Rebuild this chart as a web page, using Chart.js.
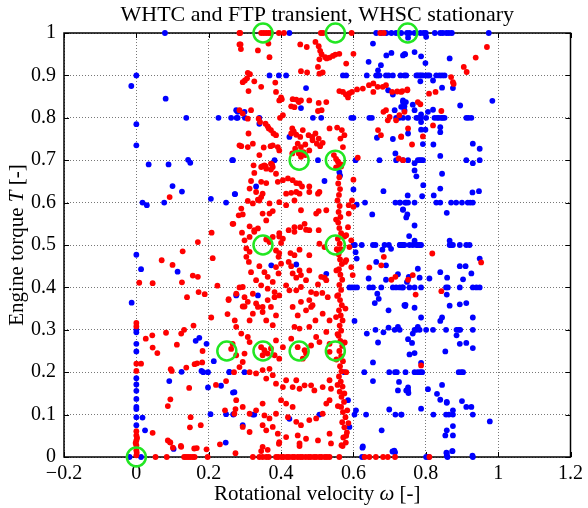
<!DOCTYPE html>
<html>
<head>
<meta charset="utf-8">
<script src="https://cdn.jsdelivr.net/npm/chart.js@4"></script>
<style>
  html, body { margin: 0; padding: 0; background: #fff; }
  #wrap { width: 588px; height: 508px; }
</style>
</head>
<body>
<div id="wrap"><canvas id="chart" width="588" height="508"></canvas></div>
<script>
// Axis ticks
const xTicks = [-0.2, 0, 0.2, 0.4, 0.6, 0.8, 1, 1.2];
const yTicks = [0, 0.1, 0.2, 0.3, 0.4, 0.5, 0.6, 0.7, 0.8, 0.9, 1];

// WHSC stationary modes (green circles)
const whscModes = [
    [0, 0], [0.25, 0.25], [0.35, 0.25], [0.45, 0.25], [0.55, 0.25],
    [0.35, 0.5], [0.55, 0.5], [0.45, 0.7], [0.55, 0.7],
    [0.35, 1], [0.55, 1], [0.75, 1]
];

// WHTC transient operating points (red)
const whtcPoints = [
    // left region
    [0.285,1.0],[0.285,0.973],[0.285,0.735],
    [0.092,0.613],[0.283,0.57],[0.266,0.55],[0.208,0.529],[0.17,0.507],[0.128,0.485],[0.211,0.469],
    [0.07,0.464],[0.1,0.453],[0.008,0.411],[0.045,0.41],[0.126,0.412],[0.156,0.428],[0.17,0.425],
    [0.224,0.404],[0.14,0.377],[0.172,0.389],[0.189,0.384],[0.255,0.372],[0.285,0.4],
    [0,0.316],[0,0.308],[0,0.22],[0,0.203],[0,0.061],[0,0.051],[0,0.039],[0,0.028],[0,0.016],
    [0,0.004],[0.002,0.045],[-0.002,0.033],[0.001,0.01],
    [0.013,0.22],[0.045,0.057],[0.026,0.279],[0.044,0.287],[0.045,0.258],[0.058,0.245],[0.082,0.293],
    [0.112,0.265],[0.124,0.291],[0.132,0.3],[0.158,0.31],[0.183,0.25],[0.207,0.329],[0.252,0.337],
    [0.272,0.322],[0.255,0.37],[0.262,0.255],[0.095,0.207],[0.098,0.203],[0.138,0.211],[0.161,0.219],
    [0.168,0.221],[0.182,0.223],[0.22,0.17],[0.248,0.179],[0.27,0.2],[0.146,0.163],[0.094,0.136],
    [0.087,0.12],[0.15,0.094],[0.148,0.07],[0.178,0.075],[0.245,0.11],[0.274,0.113],[0.087,0.039],
    [0.094,0.034],[0.123,0.026],[0.16,0.02],[0.167,0.021],[0.231,0.03],[0.194,0.018],
    [0.053,0],[0.084,0],[0.132,0],[0.137,0],[0.143,0],[0.149,0],[0.156,0],[0.161,0],[0.197,0],
    [0.274,0.009],[0.101,0.022],[0.124,0.024],
    // top band
    [0.287,1],[0.345,1],[0.352,1],[0.359,1],[0.366,1],[0.372,1],[0.394,1],[0.408,1],[0.51,1],
    [0.516,1],[0.595,1],[0.674,1],[0.684,1],
    [0.288,0.973],[0.368,0.943],[0.365,0.975],[0.289,0.962],[0.336,0.959],[0.453,0.973],[0.471,0.967],
    [0.495,0.979],[0.504,0.969],[0.508,0.958],[0.512,0.95],[0.506,0.938],[0.522,0.943],[0.526,0.94],
    [0.534,0.942],[0.543,0.946],[0.55,0.949],[0.561,0.951],[0.502,0.92],[0.58,0.928],[0.6,0.951],
    [0.472,0.907],[0.455,0.91],[0.506,0.904],[0.515,0.907],
    [0.308,0.906],[0.314,0.903],[0.3,0.888],[0.306,0.893],[0.294,0.884],[0.326,0.886],[0.31,0.863],
    [0.345,0.873],[0.384,0.883],[0.386,0.861],[0.4,0.848],[0.402,0.844],[0.395,0.841],[0.432,0.844],
    [0.442,0.843],[0.449,0.837],[0.455,0.841],[0.428,0.827],[0.437,0.825],[0.478,0.841],[0.504,0.835],
    [0.525,0.837],[0.502,0.816],[0.512,0.818],
    [0.561,0.863],[0.571,0.861],[0.579,0.855],[0.585,0.848],[0.589,0.858],[0.596,0.861],[0.61,0.867],
    [0.626,0.869],[0.643,0.877],[0.655,0.881],[0.655,0.861],[0.667,0.873],[0.681,0.873],[0.69,0.877],
    [0.707,0.861],[0.721,0.862],[0.732,0.861],[0.749,0.865],
    [0.285,0.818],[0.294,0.81],[0.317,0.818],[0.308,0.798],[0.338,0.798],[0.342,0.79],[0.357,0.786],
    [0.363,0.78],[0.366,0.775],[0.372,0.771],[0.379,0.763],[0.386,0.759],[0.31,0.763],[0.29,0.733],
    [0.308,0.731],[0.322,0.739],[0.352,0.73],[0.371,0.733],[0.377,0.735],[0.34,0.712],[0.349,0.686],
    [0.354,0.688],[0.372,0.692],[0.377,0.684],[0.359,0.68],[0.397,0.8],[0.405,0.806],[0.431,0.775],
    [0.435,0.768],[0.428,0.763],[0.442,0.76],[0.453,0.755],[0.46,0.771],[0.476,0.759],[0.486,0.755],
    [0.446,0.739],[0.455,0.731],[0.462,0.719],[0.467,0.737],[0.478,0.723],[0.487,0.747],[0.495,0.763],
    [0.504,0.751],[0.499,0.739],[0.508,0.733],[0.515,0.741],[0.534,0.775],[0.555,0.777],[0.568,0.771],
    [0.575,0.759],[0.564,0.751],[0.571,0.731],[0.391,0.731],[0.395,0.723],[0.431,0.716],[0.439,0.727],
    [0.546,0.712],[0.552,0.703],[0.557,0.697],[0.561,0.69],[0.566,0.685],[0.552,0.683],[0.56,0.685],
    [0.565,0.69],[0.612,0.706],[0.449,0.716],[0.455,0.708],[0.467,0.712],
    [0.668,0.771],[0.676,0.759],[0.695,0.794],[0.7,0.802],[0.718,0.794],[0.727,0.806],[0.683,0.814],
    [0.69,0.818],[0.732,0.756],[0.751,0.775],[0.725,0.704],[0.737,0.7],
    // right region
    [0.87,0.896],[0.875,0.884],[0.877,0.88],[0.905,0.92],[0.913,0.908],[0.938,0.942],[0.969,0.967],
    [0.735,0.863],[0.749,0.867],[0.809,0.857],[0.827,0.861],[0.741,0.814],[0.778,0.837],[0.785,0.832],
    [0.843,0.816],[0.82,0.782],[0.732,0.755],[0.792,0.756],[0.762,0.737],
    [0.818,0.48],[0.953,0.459],[0.764,0.429],[0.751,0.418],[0.772,0.383],[0.843,0.391],[0.787,0.216],[0.81,0],
    [0.684,0.472],[0.644,0.447],[0.677,0.452],[0.705,0.418],[0.716,0.425],
    // middle region
    [0.324,0.688],[0.345,0.684],[0.357,0.686],[0.375,0.69],[0.372,0.678],
    [0.326,0.67],[0.386,0.668],[0.405,0.653],[0.419,0.657],
    [0.432,0.653],[0.442,0.646],[0.451,0.645],[0.458,0.638],[0.478,0.638],
    [0.317,0.651],[0.345,0.649],[0.359,0.646],[0.6,0.654],
    [0.313,0.633],[0.331,0.625],[0.349,0.621],[0.345,0.613],[0.336,0.607],
    [0.391,0.649],[0.414,0.621],[0.428,0.623],[0.442,0.625],[0.451,0.621],[0.478,0.625],[0.502,0.621],[0.506,0.625],
    [0.308,0.604],[0.322,0.598],[0.34,0.605],[0.368,0.598],[0.377,0.58],[0.349,0.574],[0.368,0.574],[0.359,0.558],
    [0.29,0.586],[0.294,0.572],[0.268,0.55],[0.313,0.544],[0.326,0.535],[0.336,0.539],[0.292,0.529],
    [0.395,0.601],[0.414,0.594],[0.455,0.582],[0.437,0.605],[0.497,0.574],[0.504,0.58],[0.525,0.582],
    [0.421,0.535],[0.437,0.542],[0.453,0.542],[0.437,0.531],[0.465,0.55],[0.469,0.536],[0.478,0.535],[0.504,0.535],
    [0.395,0.528],[0.395,0.52],[0.377,0.519],[0.359,0.513],[0.368,0.507],[0.4,0.505],[0.405,0.515],
    [0.313,0.519],[0.326,0.531],[0.299,0.511],[0.304,0.492],[0.313,0.484],[0.304,0.472],[0.311,0.46],
    [0.317,0.436],[0.34,0.45],[0.354,0.436],[0.331,0.417],[0.345,0.405],[0.363,0.425],
    [0.386,0.487],[0.395,0.481],[0.393,0.472],[0.426,0.481],[0.437,0.476],[0.451,0.489],[0.478,0.476],
    [0.506,0.503],[0.52,0.495],
    [0.421,0.46],[0.428,0.45],[0.451,0.44],[0.455,0.429],[0.442,0.423],[0.432,0.433],[0.478,0.44],
    [0.469,0.417],[0.502,0.407],[0.511,0.425],[0.52,0.423],[0.525,0.417],
    [0.386,0.448],[0.4,0.456],[0.393,0.433],[0.377,0.413],[0.363,0.397],[0.382,0.389],[0.395,0.381],
    [0.414,0.405],[0.423,0.393],
    [0.442,0.393],[0.455,0.401],[0.483,0.389],[0.497,0.385],[0.514,0.387],[0.529,0.377],[0.478,0.37],
    [0.487,0.358],[0.455,0.366],
    [0.294,0.401],[0.276,0.385],[0.299,0.377],[0.322,0.385],[0.308,0.366],[0.331,0.362],[0.349,0.354],
    [0.363,0.37],[0.382,0.377],[0.294,0.355],
    [0.587,0.594],[0.596,0.605],[0.6,0.59],[0.587,0.574],[0.585,0.542],[0.58,0.523],[0.594,0.511],
    [0.589,0.495],[0.58,0.464],[0.594,0.448],[0.598,0.429],
    // lower middle region
    [0.299,0.355],[0.322,0.338],[0.313,0.322],[0.336,0.354],[0.349,0.342],[0.359,0.322],[0.372,0.354],
    [0.386,0.334],[0.377,0.311],
    [0.432,0.354],[0.446,0.334],[0.469,0.346],[0.483,0.354],[0.495,0.322],[0.437,0.307],[0.451,0.303],
    [0.478,0.307],[0.515,0.338],[0.534,0.322],[0.525,0.295],
    [0.276,0.307],[0.29,0.291],[0.266,0.267],[0.308,0.283],[0.313,0.271],[0.276,0.24],[0.299,0.244],[0.294,0.224],
    [0.345,0.259],[0.354,0.252],[0.363,0.244],[0.372,0.256],[0.349,0.24],[0.382,0.24],[0.386,0.275],
    [0.405,0.259],[0.395,0.232],
    [0.428,0.279],[0.446,0.259],[0.465,0.252],[0.469,0.244],[0.46,0.232],[0.483,0.263],[0.497,0.283],
    [0.506,0.271],[0.534,0.267],[0.534,0.248],
    [0.285,0.212],[0.313,0.2],[0.331,0.197],[0.349,0.205],[0.368,0.208],[0.359,0.185],[0.377,0.193],
    [0.386,0.173],[0.405,0.165],[0.414,0.181],[0.442,0.181],[0.432,0.165],[0.451,0.161],[0.465,0.169],
    [0.483,0.169],[0.492,0.157],[0.515,0.165],[0.534,0.181],[0.538,0.161],
    [0.276,0.134],[0.294,0.118],[0.271,0.102],[0.313,0.102],[0.331,0.11],[0.349,0.126],[0.354,0.098],
    [0.368,0.091],[0.386,0.102],[0.4,0.134],[0.414,0.126],[0.432,0.118],[0.419,0.094],[0.442,0.083],
    [0.455,0.075],[0.478,0.087],[0.497,0.091],[0.515,0.102],[0.525,0.126],[0.534,0.134],
    [0.294,0.071],[0.313,0.059],[0.349,0.075],[0.359,0.063],[0.377,0.071],[0.391,0.055],[0.395,0.035],
    [0.414,0.047],[0.446,0.051],[0.451,0.032],[0.469,0.043],[0.502,0.039],[0.534,0.055],[0.538,0.032],
    [0.349,0.024],[0.345,0.014],[0.363,0.017],[0.394,0.031],[0.451,0.026],[0.57,0.026],[0.093,0.035],
    // idle-speed column near 0.56
    [0.561,0.66],[0.558,0.645],[0.563,0.632],[0.56,0.618],[0.556,0.605],[0.562,0.592],[0.559,0.578],
    [0.564,0.566],[0.558,0.553],[0.561,0.54],[0.566,0.528],[0.557,0.515],[0.562,0.503],[0.565,0.49],
    [0.559,0.478],[0.563,0.466],[0.568,0.455],[0.56,0.443],[0.564,0.43],[0.569,0.418],[0.561,0.406],
    [0.566,0.394],[0.558,0.382],[0.563,0.37],[0.568,0.358],[0.56,0.346],[0.565,0.334],[0.57,0.322],
    [0.562,0.31],[0.566,0.298],[0.559,0.286],[0.564,0.274],[0.569,0.262],[0.561,0.25],[0.566,0.238],
    [0.571,0.226],[0.563,0.214],[0.567,0.202],[0.56,0.19],[0.565,0.178],[0.57,0.166],[0.562,0.154],
    [0.567,0.142],[0.574,0.13],[0.566,0.118],[0.571,0.106],[0.578,0.094],[0.569,0.082],[0.575,0.07],
    [0.582,0.058],[0.572,0.046],[0.579,0.034],[0.567,0.028],
    [0.552,0.56],[0.554,0.49],[0.553,0.44],[0.555,0.38],[0.552,0.33],[0.556,0.29],[0.553,0.23],
    [0.556,0.17],[0.557,0.12],[0.583,0.11],[0.586,0.08],[0.58,0.05],[0.575,0.52],[0.577,0.46],
    [0.578,0.35],[0.576,0.27],[0.58,0.2],[0.575,0.15],
    // zero torque line
    [0.322,0],[0.34,0],[0.349,0],[0.359,0],[0.366,0],[0.386,0],[0.392,0],[0.401,0],[0.407,0],[0.416,0],
    [0.422,0],[0.431,0],[0.437,0],[0.446,0],[0.453,0],[0.459,0],[0.468,0],[0.476,0],[0.482,0],[0.491,0],
    [0.497,0],[0.506,0],[0.512,0],[0.521,0],[0.527,0],[0.534,0],[0.561,0],[0.631,0],[0.644,0],[0.662,0],
    [0.682,0],[0.695,0],[0.715,0]
];

// WHSC / FTP stationary points (blue)
const stationaryPoints = [
    [0.079,1],[0,0.9],[-0.014,0.875],[0.081,0.845],[0.138,0.8],[0.227,0.8],[0.277,0.8],[0.28,0.814],
    [0,0.785],[0,0.735],[0.034,0.69],[0.089,0.69],[0.143,0.701],[0.149,0.694],[0.267,0.7],
    [0.1,0.639],[0.126,0.626],[0.017,0.6],[0.029,0.594],[0.077,0.6],[0.206,0.609],[0.248,0.6],[0.273,0.62],
    [0,0.477],[0.013,0.443],[0.114,0.437],[-0.013,0.364],[0.277,0.383],
    [0,0.3],[0,0.294],[0,0.267],[0,0.249],[0,0.186],[0,0.171],[0,0.156],[0,0.137],[0,0.118],[0,0.113],
    [0,0.094],[0,0.075],[-0.019,0],[0.013,0],
    [0.017,0.093],[0.024,0.063],[0.103,0.019],[0.164,0.274],[0.174,0.281],[0.194,0.267],[0.214,0.226],
    [0.125,0.201],[0.18,0.203],[0.185,0.2],[0.198,0.2],[0.198,0.164],[0.234,0.168],[0.257,0.201],
    [0.267,0.152],[0.091,0.179],[0.205,0.101],[0.248,0.101],[0.268,0.101],[0.247,0.034],
    [0.423,1],[0.663,1],[0.677,1],[0.691,1],[0.705,1],[0.718,1],[0.732,1],[0.748,1],[0.755,1],[0.769,1],
    [0.785,1],[0.794,1],[0.8,1],[0.825,1],[0.84,1],[0.847,1],[0.857,1],[0.864,1],[0.872,1],[0.974,1],
    [0.751,0.989],[0.801,0.991],
    [0.654,0.975],[0.691,0.947],[0.705,0.953],[0.737,0.947],[0.743,0.95],[0.642,0.932],[0.676,0.924],[0.668,0.912],
    [0.368,0.9],[0.394,0.9],[0.414,0.9],[0.571,0.9],[0.58,0.9],[0.637,0.9],[0.663,0.9],[0.667,0.9],
    [0.672,0.9],[0.69,0.9],[0.697,0.9],[0.709,0.9],[0.73,0.9],[0.741,0.9],
    [0.469,0.87],[0.455,0.823],
    [0.262,0.8],[0.28,0.8],[0.3,0.8],[0.34,0.8],[0.488,0.8],[0.511,0.8],[0.594,0.8],[0.6,0.8],[0.644,0.8],
    [0.651,0.8],[0.718,0.8],[0.727,0.8],[0.737,0.8],[0.751,0.8],
    [0.276,0.818],[0.299,0.814],[0.34,0.786],[0.423,0.755],[0.665,0.753],[0.709,0.75],[0.737,0.841],
    [0.745,0.837],[0.732,0.826],[0.714,0.818],[0.741,0.818],[0.696,0.865],[0.709,0.855],
    [0.265,0.7],[0.382,0.7],[0.502,0.7],[0.606,0.7],[0.672,0.7],[0.718,0.7],[0.737,0.7],[0.751,0.7],[0.716,0.716],
    [0.741,0.95],[0.769,0.955],[0.787,0.945],[0.799,0.929],[0.866,0.94],
    [0.746,0.9],[0.774,0.9],[0.778,0.9],[0.783,0.9],[0.787,0.9],[0.792,0.9],[0.801,0.9],[0.806,0.9],
    [0.81,0.9],[0.829,0.9],[0.838,0.9],[0.845,0.9],[0.852,0.9],
    [0.785,0.886],[0.82,0.888],[0.845,0.871],[0.875,0.87],[0.984,0.84],[0.895,0.829],[0.737,0.837],
    [0.741,0.827],[0.764,0.831],[0.769,0.818],[0.787,0.808],[0.806,0.814],[0.82,0.819],
    [0.774,0.8],[0.778,0.8],[0.787,0.8],[0.801,0.8],[0.824,0.8],[0.831,0.8],[0.836,0.8],[0.843,0.8],
    [0.847,0.8],[0.852,0.8],[0.912,0.8],[0.918,0.8],[0.926,0.8],
    [0.787,0.79],[0.787,0.772],[0.799,0.772],[0.84,0.778],[0.84,0.766],[0.751,0.763],[0.792,0.738],
    [0.821,0.737],[0.84,0.71],[0.93,0.739],[0.949,0.727],
    [0.778,0.7],[0.783,0.7],[0.787,0.7],[0.792,0.7],[0.912,0.7],[0.949,0.7],[0.769,0.693],[0.93,0.693],
    [0.769,0.676],[0.774,0.662],[0.845,0.668],[0.793,0.641],[0.84,0.633],[0.822,0.617],[0.79,0.615],
    [0.75,0.617],[0.929,0.624],[0.947,0.627],
    [0.728,0.6],[0.746,0.6],[0.751,0.6],[0.769,0.6],[0.829,0.6],[0.84,0.6],[0.87,0.6],[0.884,0.6],
    [0.9,0.6],[0.916,0.6],[0.923,0.6],[0.93,0.6],
    [0.737,0.584],[0.858,0.576],[0.746,0.565],[0.769,0.546],[0.754,0.521],[0.769,0.51],
    [0.728,0.5],[0.737,0.5],[0.755,0.5],[0.764,0.5],[0.774,0.5],[0.778,0.5],[0.783,0.5],[0.787,0.5],
    [0.866,0.5],[0.87,0.5],[0.875,0.5],[0.894,0.5],[0.912,0.5],[0.921,0.5],
    [0.866,0.51],[0.949,0.468],[0.894,0.45],[0.91,0.45],[0.926,0.433],[0.778,0.444],[0.783,0.423],
    [0.81,0.421],[0.84,0.436],[0.859,0.423],[0.903,0.419],
    [0.728,0.4],[0.737,0.4],[0.755,0.4],[0.769,0.4],[0.787,0.4],[0.856,0.4],[0.861,0.4],[0.894,0.4],
    [0.93,0.4],[0.94,0.4],[0.949,0.4],
    [0.858,0.383],[0.743,0.356],[0.769,0.352],[0.866,0.357],[0.894,0.36],[0.912,0.363],
    [0.787,0.329],[0.84,0.321],[0.845,0.329],[0.93,0.329],
    [0.728,0.3],[0.769,0.3],[0.774,0.3],[0.783,0.3],[0.801,0.3],[0.82,0.3],[0.856,0.3],[0.885,0.3],
    [0.891,0.3],[0.895,0.3],[0.93,0.3],
    [0.764,0.291],[0.751,0.278],[0.762,0.269],[0.778,0.307],[0.885,0.287],[0.894,0.267],[0.912,0.269],
    [0.93,0.257],[0.854,0.249],[0.755,0.242],[0.769,0.245],[0.787,0.222],
    [0.744,0.2],[0.769,0.2],[0.778,0.2],[0.785,0.2],[0.79,0.2],[0.891,0.2],[0.898,0.2],[0.903,0.2],
    [0.751,0.164],[0.751,0.157],[0.752,0.151],[0.806,0.16],[0.831,0.149],[0.845,0.17],[0.84,0.135],
    [0.858,0.13],[0.858,0.128],[0.9,0.132],[0.912,0.118],[0.926,0.118],[0.787,0.114],
    [0.732,0.1],[0.821,0.1],[0.856,0.1],[0.864,0.1],[0.875,0.1],[0.93,0.1],[0.875,0.11],[0.977,0.084],
    [0.875,0.073],[0.858,0.063],[0.854,0.051],[0.875,0.051],[0.873,0.014],[0.858,0.009],[0.858,0.003],
    [0.929,0.003],[0.801,0],
    [0.624,0],[0.625,0.022],[0.708,0.013],[0.715,0.011],[0.808,0],[0.857,0.01],[0.86,0],[0.874,0.014],[0.93,0],
    [0.659,0.363],[0.741,0.358],[0.697,0.346],[0.603,0.321],[0.637,0.291],[0.661,0.3],[0.683,0.294],
    [0.697,0.305],[0.714,0.3],[0.723,0.307],[0.668,0.27],[0.654,0.223],[0.575,0.2],[0.63,0.2],[0.699,0.2],
    [0.715,0.2],[0.72,0.2],[0.654,0.179],[0.726,0.177],[0.723,0.157],[0.746,0.157],[0.699,0.112],
    [0.607,0.11],[0.506,0.1],[0.603,0.1],[0.635,0.1],[0.716,0.1],[0.733,0.1],[0.423,0.09],[0.678,0.063],
    [0.626,0.025],[0.713,0.015],
    [0.257,0.2],[0.299,0.2],[0.271,0.153],[0.268,0.1],[0.322,0.1],[0.326,0.1],[0.294,0.075],
    [0.585,0.134],[0.589,0.071],
    [0.272,0.62],[0.331,0.638],[0.52,0.651],[0.6,0.631],[0.683,0.627],[0.609,0.595],[0.632,0.6],
    [0.652,0.572],[0.716,0.6],[0.729,0.6],[0.743,0.6],[0.737,0.583],[0.749,0.572],[0.561,0.672],
    [0.563,0.664],[0.606,0.483],[0.6,0.5],[0.604,0.5],
    [0.623,0.5],[0.654,0.5],[0.661,0.5],[0.686,0.5],[0.698,0.5],[0.729,0.5],[0.735,0.5],[0.741,0.5],
    [0.68,0.489],[0.704,0.491],[0.609,0.468],[0.663,0.46],[0.69,0.452],[0.723,0.431],[0.753,0.425],
    [0.748,0.413],[0.642,0.421],[0.69,0.418],
    [0.589,0.4],[0.596,0.4],[0.603,0.4],[0.61,0.4],[0.644,0.4],[0.654,0.4],[0.677,0.4],[0.709,0.4],
    [0.718,0.4],[0.735,0.4],
    [0.666,0.385],[0.67,0.373],[0.744,0.359],[0.525,0.432],[0.442,0.454],[0.373,0.452],[0.276,0.381],[0.336,0.381]
];

const serif = '"Liberation Serif", "Times New Roman", serif';

function toXY(list) {
    return list.map(p => ({ x: p[0], y: p[1] }));
}

function fmt(v) {
    const s = String(Math.round(v * 10) / 10);
    return s.replace('-', '\u2212');
}

// draws text pieces in a row, some italic, centred on (cx, cy)
function drawPieces(ctx, pieces, cx, cy, size) {
    let total = 0;
    pieces.forEach(p => {
        ctx.font = (p.italic ? 'italic ' : '') + size + 'px ' + serif;
        p.w = ctx.measureText(p.text).width;
        total += p.w;
    });
    let x = cx - total / 2;
    pieces.forEach(p => {
        ctx.font = (p.italic ? 'italic ' : '') + size + 'px ' + serif;
        ctx.fillText(p.text, x, cy);
        x += p.w;
    });
}

const framePlugin = {
    id: 'frame',
    beforeDatasetsDraw(chart) {
        const { ctx, chartArea: a, scales: { x, y } } = chart;
        ctx.save();
        ctx.strokeStyle = '#000';
        ctx.lineWidth = 1;
        ctx.beginPath();
        xTicks.forEach(v => {
            const px = Math.round(x.getPixelForValue(v)) + 0.5;
            ctx.moveTo(px, a.bottom); ctx.lineTo(px, a.bottom - 5);
            ctx.moveTo(px, a.top); ctx.lineTo(px, a.top + 5);
        });
        yTicks.forEach(v => {
            const py = Math.round(y.getPixelForValue(v)) + 0.5;
            ctx.moveTo(a.left, py); ctx.lineTo(a.left + 5, py);
            ctx.moveTo(a.right, py); ctx.lineTo(a.right - 5, py);
        });
        ctx.stroke();
        ctx.lineWidth = 1.5;
        ctx.strokeRect(a.left, a.top, a.right - a.left, a.bottom - a.top);
        ctx.restore();
    },
    afterDraw(chart) {
        const { ctx, chartArea: a } = chart;
        const cx = (a.left + a.right) / 2;
        ctx.save();
        ctx.fillStyle = '#000';
        ctx.textBaseline = 'middle';
        ctx.textAlign = 'left';
        drawPieces(ctx, [{ text: 'WHTC and FTP transient, WHSC stationary' }], cx, 15, 22);
        drawPieces(ctx, [
            { text: 'Rotational velocity ' }, { text: '\u03c9', italic: true }, { text: ' [-]' }
        ], cx, 494, 21);
        ctx.translate(17, (a.top + a.bottom) / 2);
        ctx.rotate(-Math.PI / 2);
        drawPieces(ctx, [
            { text: 'Engine torque ' }, { text: 'T', italic: true }, { text: ' [-]' }
        ], 0, 0, 21);
        ctx.restore();
    }
};

new Chart(document.getElementById('chart'), {
    type: 'scatter',
    data: {
        datasets: [
            {
                label: 'WHSC modes',
                data: toXY(whscModes),
                pointRadius: 9.5,
                pointBorderWidth: 2.5,
                borderColor: '#22e622',
                backgroundColor: 'rgba(0,0,0,0)',
                order: 0,
                clip: false
            },
            {
                label: 'Transient',
                data: toXY(whtcPoints),
                pointRadius: 2.9,
                pointBorderWidth: 0,
                borderColor: '#ff0000',
                backgroundColor: '#ff0000',
                order: 1,
                clip: false
            },
            {
                label: 'Stationary',
                data: toXY(stationaryPoints),
                pointRadius: 2.9,
                pointBorderWidth: 0,
                borderColor: '#0000ff',
                backgroundColor: '#0000ff',
                order: 2,
                clip: false
            }
        ]
    },
    options: {
        responsive: false,
        animation: false,
        devicePixelRatio: 1,
        layout: { padding: { top: 33, right: 16, left: 0, bottom: 0 } },
        plugins: { legend: { display: false }, tooltip: { enabled: false } },
        scales: {
            x: {
                type: 'linear',
                min: -0.2,
                max: 1.2,
                afterBuildTicks: s => { s.ticks = xTicks.map(v => ({ value: v })); },
                afterFit: s => { s.height = 51; },
                grid: { color: '#777', lineWidth: 1, drawTicks: false },
                border: { display: false, dash: [1, 2] },
                ticks: {
                    color: '#000',
                    padding: 5,
                    maxRotation: 0,
                    font: { family: serif, size: 20 },
                    callback: v => fmt(v)
                }
            },
            y: {
                type: 'linear',
                min: 0,
                max: 1,
                afterBuildTicks: s => { s.ticks = yTicks.map(v => ({ value: v })); },
                afterFit: s => { s.width = 64; },
                grid: { color: '#777', lineWidth: 1, drawTicks: false },
                border: { display: false, dash: [1, 2] },
                ticks: {
                    color: '#000',
                    padding: 8,
                    font: { family: serif, size: 20 },
                    callback: v => fmt(v)
                }
            }
        }
    },
    plugins: [framePlugin]
});
</script>
</body>
</html>
